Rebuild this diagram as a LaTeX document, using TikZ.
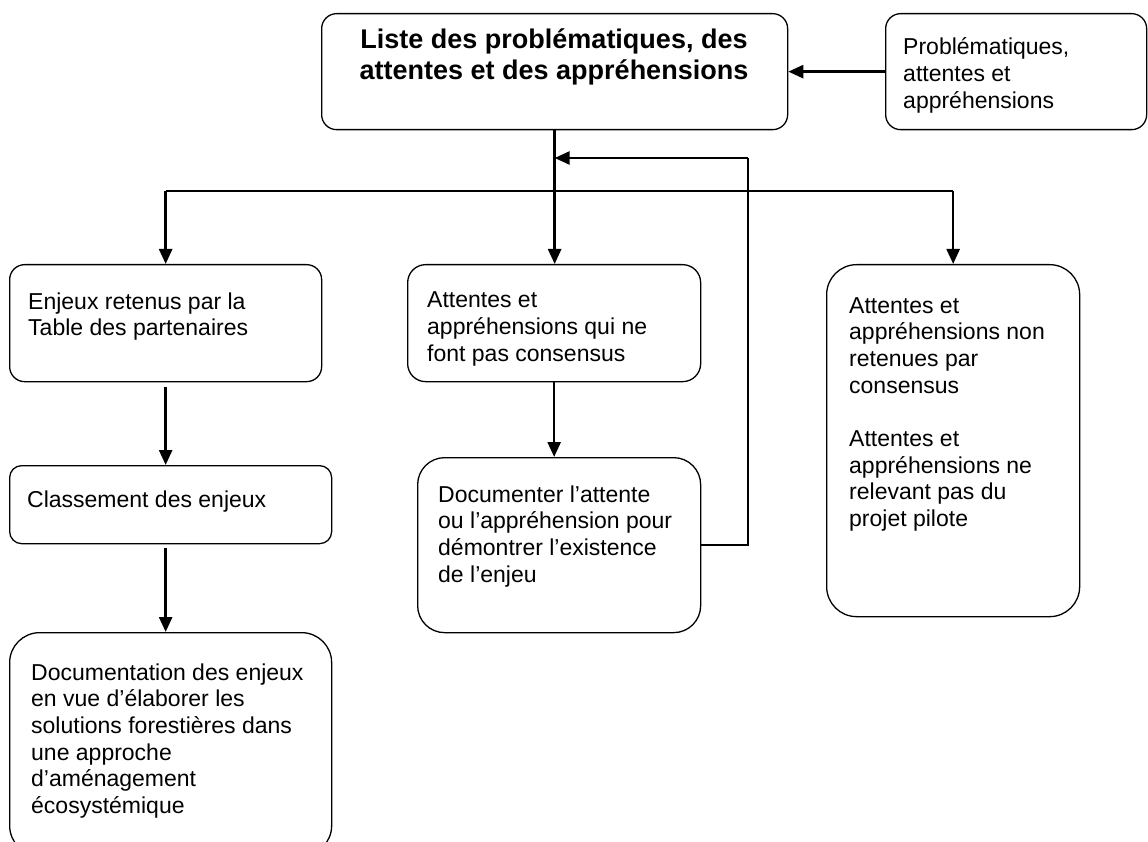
\documentclass[tikz,border=0pt]{standalone}
\usepackage{fontspec}
\setmainfont{Liberation Sans}
\usetikzlibrary{arrows.meta}
\newcommand{\lignes}[1]{\parbox[t]{420pt}{\raggedright #1}}
\tikzset{
	box/.style={draw, line width=1.3pt, anchor=north west, inner sep=0pt},
	etiquette/.style={anchor=base west, inner sep=0pt, font=\fontsize{23}{26.7}\selectfont},
	fleche/.style={line width=2.6pt, -{Triangle[length=15pt,width=13pt]}},
	trait/.style={line width=1.4pt}
}
\begin{document}
\begin{tikzpicture}[x=1pt,y=-1pt]
		\useasboundingbox (0,0) rectangle (1148,842);
		\clip (0,0) rectangle (1148,842);
		%boxes
		\node[box, rounded corners=15pt, minimum width=466pt, minimum height=116pt] (liste) at (321,13) {};
		\node[box, rounded corners=15pt, minimum width=261pt, minimum height=116pt] (source) at (885,13) {};
		\node[box, rounded corners=15pt, minimum width=312pt, minimum height=117pt] (enjeux) at (9,264) {};
		\node[box, rounded corners=12pt, minimum width=322pt, minimum height=78pt] (classement) at (9,465) {};
		\node[box, rounded corners=30pt, minimum width=322pt, minimum height=223pt] (documentation) at (9,632) {};
		\node[box, rounded corners=18pt, minimum width=293pt, minimum height=117pt] (attentes) at (407,264) {};
		\node[box, rounded corners=27pt, minimum width=283pt, minimum height=175pt] (documenter) at (417,457) {};
		\node[box, rounded corners=30pt, minimum width=253pt, minimum height=352pt] (nonretenues) at (826,264) {};
		%texts
		\node[anchor=base, inner sep=0pt, font=\fontsize{27}{31}\selectfont\bfseries] (liste-t) at (554,49)
			{\parbox[t]{460pt}{\centering Liste des problématiques, des\\attentes et des appréhensions}};
		\node[etiquette] (source-t) at (903,55) {\lignes{Problématiques,\\attentes et\\appréhensions}};
		\node[etiquette] (enjeux-t) at (28,309) {\lignes{Enjeux retenus par la\\Table des partenaires}};
		\node[etiquette] (classement-t) at (27,507) {\lignes{Classement des enjeux}};
		\node[etiquette] (documentation-t) at (31,680) {\lignes{Documentation des enjeux\\en vue d’élaborer les\\solutions forestières dans\\une approche\\d’aménagement\\écosystémique}};
		\node[etiquette] (attentes-t) at (427,308) {\lignes{Attentes et\\appréhensions qui ne\\font pas consensus}};
		\node[etiquette] (documenter-t) at (438,502) {\lignes{Documenter l’attente\\ou l’appréhension pour\\démontrer l’existence\\de l’enjeu}};
		\node[etiquette] (nonretenues-t) at (849,313) {\lignes{Attentes et\\appréhensions non\\retenues par\\consensus\\[26.7pt]Attentes et\\appréhensions ne\\relevant pas du\\projet pilote}};
		%connectors
		\coordinate (split) at (554,191);
		\coordinate (retour) at (748,158);
		\draw[fleche] (source) -- (liste);
		\draw[fleche] (liste.south) -- (liste.south |- attentes.north);
		\draw[trait] (enjeux.north |- split) -- (nonretenues.north |- split);
		\draw[fleche] (enjeux.north |- split) -- (enjeux.north);
		\draw[fleche] (nonretenues.north |- split) -- (nonretenues.north);
		\draw[fleche, shorten <=5pt] (enjeux.south) -- (enjeux.south |- classement.north);
		\draw[fleche, shorten <=4pt] (classement.south -| enjeux.south) -- (enjeux.south |- documentation.north);
		\draw[fleche] (attentes.south) -- (attentes.south |- documenter.north);
		%retour
		\draw[trait] (documenter.east) -| (retour);
		\draw[fleche] (retour) -- (liste.south |- retour);
	\end{tikzpicture}
\end{document}
